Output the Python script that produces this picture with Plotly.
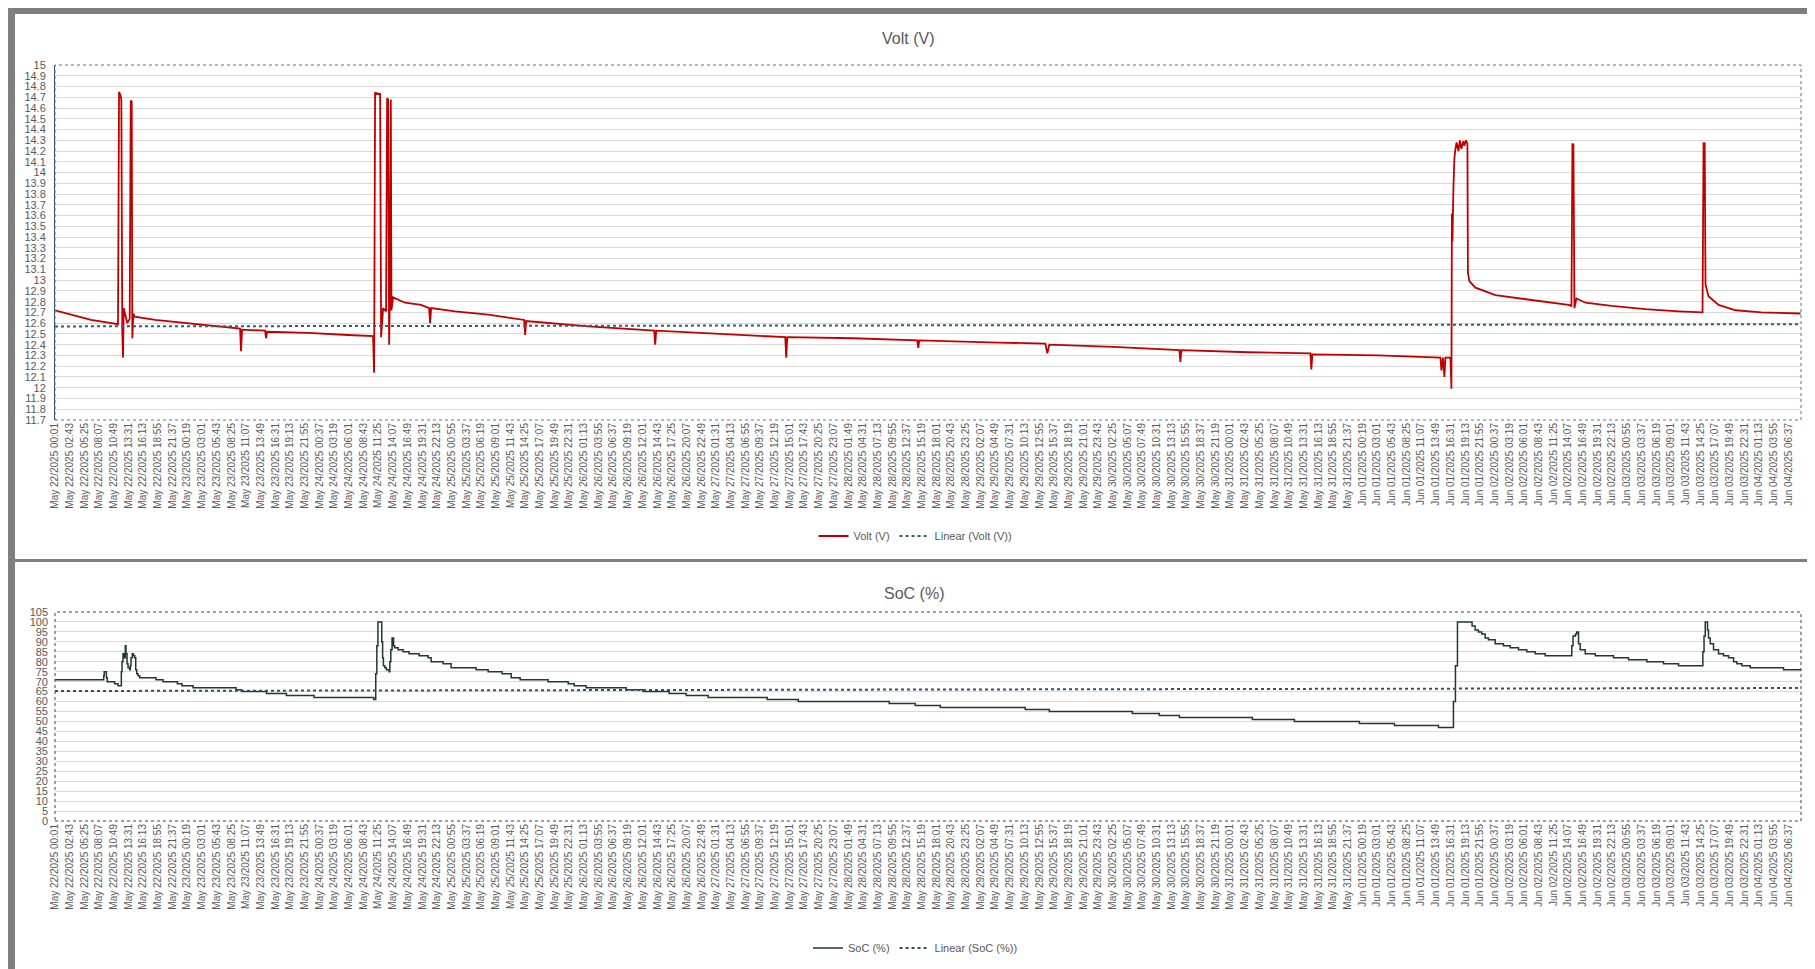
import numpy as np
import pandas as pd
import plotly.graph_objects as go

START = pd.Timestamp("2025-05-22 00:01")

# ---- Volt (V): hours since START, value ----
volt_hours = [0, 2.39, 6.62, 11.58, 11.77, 12.01, 12.19, 12.37, 12.50, 12.63, 12.92, 13.29, 13.73,
              13.92, 14.10, 14.21, 14.40, 14.65, 18.39, 24.45, 30.89, 34.01, 34.19, 34.38, 38.61,
              38.79, 38.98, 46.51, 53.87, 58.46, 58.65, 58.83, 59.75, 59.94, 60.30, 60.85, 61.04,
              61.22, 61.41, 61.54, 61.72, 61.83, 62.14, 64.35, 67.29, 68.76, 68.94, 69.13, 73.54,
              79.61, 86.23, 86.41, 86.60, 97.99, 110.13, 110.31, 110.50, 121.89, 134.21, 134.40,
              134.58, 146.71, 158.48, 158.66, 158.85, 173.37, 182.01, 182.38, 182.75, 194.51,
              206.65, 206.83, 207.01, 219.33, 230.73, 230.90, 231.10, 243.23, 254.63, 254.81,
              255.09, 255.36, 255.55, 256.47, 256.65, 256.74, 256.84, 257.02, 257.20, 257.39,
              257.60, 257.94, 258.20, 258.49, 258.80, 259.04, 259.30, 259.59, 259.68, 259.96,
              261.06, 264.74, 270.81, 278.16, 278.71, 278.89, 279.07, 279.17, 279.26, 279.63,
              281.29, 286.07, 292.32, 298.39, 302.80, 302.99, 303.10, 303.20, 303.35, 303.90,
              305.74, 308.87, 313.65, 320.82]
volt_values = [12.72, 12.69, 12.63, 12.59, 14.75, 14.72, 14.68, 12.51, 12.28, 12.74, 12.68, 12.60, 12.64,
               14.67, 14.66, 12.46, 12.69, 12.66, 12.63, 12.60, 12.57, 12.55, 12.34, 12.54, 12.53,
               12.46, 12.52, 12.51, 12.49, 12.48, 12.14, 14.74, 14.73, 12.47, 12.74, 12.71, 14.69,
               14.68, 12.40, 12.83, 14.68, 12.72, 12.84, 12.79, 12.77, 12.74, 12.60, 12.74, 12.71,
               12.68, 12.63, 12.49, 12.62, 12.57, 12.53, 12.40, 12.53, 12.50, 12.47, 12.28,
               12.47, 12.46, 12.44, 12.37, 12.44, 12.42, 12.41, 12.32, 12.40, 12.38,
               12.35, 12.24, 12.35, 12.33, 12.32, 12.17, 12.31, 12.30, 12.28, 12.16,
               12.28, 12.10, 12.28, 12.28, 11.99, 13.62, 13.36, 13.86, 14.14, 14.22,
               14.28, 14.20, 14.30, 14.22, 14.29, 14.25, 14.30, 14.27, 13.07, 12.99,
               12.93, 12.86, 12.82, 12.77, 12.76, 14.27, 14.26, 13.19, 12.74, 12.83,
               12.79, 12.76, 12.73, 12.71, 12.70, 14.28, 14.24, 14.28, 12.96, 12.85,
               12.77, 12.72, 12.70, 12.69]

# ---- SoC (%): hours since START, value (step changes) ----
soc_hours = [0, 8.95, 9.05, 9.45, 9.6, 10.97, 11.58, 12.19, 12.32, 12.50, 12.74, 12.92, 13.05, 13.24,
             13.42, 13.73, 13.84, 13.97, 14.21, 14.40, 14.65, 14.84, 15.02, 15.26, 15.57, 18.57,
             19.86, 22.49, 23.35, 25.37, 33.28, 34.26, 38.85, 42.53, 47.62, 58.59, 58.95, 59.15,
             59.35, 60.05, 60.21, 60.36, 60.62, 60.91, 61.41, 61.54, 61.72, 61.95, 62.23, 62.42,
             63.06, 63.98, 65.08, 66.92, 68.58, 69.13, 71.33, 72.80, 77.40, 79.61, 82.18, 83.84,
             85.49, 90.64, 94.32, 95.42, 97.62, 104.98, 108.10, 112.88, 116.01, 120.05, 130.90,
             136.60, 153.33, 158.11, 162.71, 178.33, 182.75, 198.01, 202.97, 206.65, 220.07,
             227.79, 239.74, 246.18, 254.27, 256.65, 257.02, 257.39, 257.76, 260.45, 261.01,
             261.62, 262.22, 262.85, 263.45, 264.69, 266.21, 267.45, 268.97, 270.50, 272.04,
             273.88, 278.77, 279.00, 279.45, 279.69, 280.01, 280.32, 281.24, 283.08, 286.44,
             289.20, 292.56, 295.63, 298.39, 302.86, 303.08, 303.30, 303.72, 303.90, 304.22,
             304.82, 305.74, 306.66, 307.58, 308.50, 309.11, 310.03, 311.57, 317.69, 321.0]
soc_values = [71, 73, 75, 72, 70, 69, 68, 75, 80, 84, 82, 88, 84, 79,
              77, 76, 78, 82, 84, 83, 82, 76, 74, 73, 72, 71,
              70, 69, 68, 67, 66, 65, 64, 63, 62, 61, 74, 88,
              100, 90, 82, 78, 77, 76, 75, 80, 86, 92, 88, 87,
              86, 85, 84, 83, 82, 80, 79, 77, 76, 75, 74, 72,
              71, 70, 69, 68, 67, 66, 65, 64, 63, 62, 61,
              60, 59, 58, 57, 56, 55, 54, 53, 52, 51,
              50, 49, 48, 47, 47, 60, 78, 100, 98, 96,
              95, 94, 92, 91, 89, 88, 87, 86, 85, 84,
              83, 88, 93, 94, 95, 89, 86, 84, 83, 82,
              81, 80, 79, 78, 85, 93, 100, 96, 92, 89,
              86, 84, 83, 82, 80, 79, 78, 77, 76, 76]

# ---- Linear trendlines (end points) ----
trend_hours = [0, 320.9]
volt_trend = [12.57, 12.59]
soc_trend = [65.3, 66.8]

# ---- Axis ticks ----
x_tick_step_min = 162
x_tick_count = 119
volt_tick_vals = [round(11.7 + 0.1 * i, 1) for i in range(34)]
soc_tick_vals = list(range(0, 106, 5))

def to_time(hours):
    return [START + pd.Timedelta(hours=h) for h in hours]

tick_times = [START + pd.Timedelta(minutes=x_tick_step_min * k) for k in range(x_tick_count)]
tick_text = [t.strftime("%b %d/%Y %H:%M") for t in tick_times]
x_range = [START, START + pd.Timedelta(hours=320.9)]

FONT = "Liberation Sans, Arial, sans-serif"
GRAY = "#595959"
W, H = 1815, 969

fig = go.Figure()
fig.add_trace(go.Scatter(x=to_time(volt_hours), y=volt_values, mode="lines", name="Volt (V)",
                         line=dict(color="#c00000", width=1.8), xaxis="x", yaxis="y", legend="legend"))
fig.add_trace(go.Scatter(x=to_time(trend_hours), y=volt_trend, mode="lines", name="Linear (Volt (V))",
                         line=dict(color="#2f5f73", width=2, dash="dot"), xaxis="x", yaxis="y", legend="legend"))
fig.add_trace(go.Scatter(x=to_time(soc_hours), y=soc_values, mode="lines", name="SoC (%)",
                         line=dict(color="#1e3a2c", width=1.5, shape="hv"), xaxis="x2", yaxis="y2", legend="legend2"))
fig.add_trace(go.Scatter(x=to_time(trend_hours), y=soc_trend, mode="lines", name="Linear (SoC (%))",
                         line=dict(color="#2f4f73", width=2, dash="dot"), xaxis="x2", yaxis="y2", legend="legend2"))

xdom = [47 / W, 1793 / W]
common_x = dict(type="date", range=x_range, tickmode="array", tickvals=tick_times, ticktext=tick_text,
                tickangle=-90, tickfont=dict(family=FONT, size=10, color=GRAY), showgrid=False,
                zeroline=False, showline=False, ticks="", automargin=False, domain=xdom)
fig.update_layout(
    width=W, height=H,
    margin=dict(l=0, r=0, t=0, b=0),
    paper_bgcolor="#7f7f7f",
    plot_bgcolor="rgba(0,0,0,0)",
    font=dict(family=FONT, color=GRAY, size=11),
    xaxis=dict(anchor="y", **common_x),
    xaxis2=dict(anchor="y2", **common_x),
    yaxis=dict(domain=[1 - 412 / H, 1 - 57 / H], range=[11.7, 15], tickmode="array",
               tickvals=volt_tick_vals, ticktext=[f"{v:g}" for v in volt_tick_vals],
               gridcolor="#d9d9d9", gridwidth=1, zeroline=False, showline=True,
               linecolor="#24505f", linewidth=1, ticks="", ticklabelstandoff=6,
               tickfont=dict(family=FONT, size=11, color=GRAY), automargin=False),
    yaxis2=dict(domain=[1 - 813 / H, 1 - 604 / H], range=[0, 105], tickmode="array",
                tickvals=soc_tick_vals, ticktext=[str(v) for v in soc_tick_vals],
                gridcolor="#d9d9d9", gridwidth=1, zeroline=False, showline=False, ticks="",
                ticklabelstandoff=6, tickfont=dict(family=FONT, size=11, color=GRAY), automargin=False),
    legend=dict(orientation="h", x=0.5, xanchor="center", y=1 - 528 / H, yanchor="middle",
                font=dict(family=FONT, size=11, color=GRAY), bgcolor="rgba(0,0,0,0)"),
    legend2=dict(orientation="h", x=0.5, xanchor="center", y=1 - 940 / H, yanchor="middle",
                 font=dict(family=FONT, size=11, color=GRAY), bgcolor="rgba(0,0,0,0)"),
    annotations=[
        dict(text="Volt (V)", x=900 / W, y=1 - 30 / H, xref="paper", yref="paper", showarrow=False,
             xanchor="center", yanchor="middle", font=dict(family=FONT, size=16, color=GRAY)),
        dict(text="SoC (%)", x=906 / W, y=1 - 585 / H, xref="paper", yref="paper", showarrow=False,
             xanchor="center", yanchor="middle", font=dict(family=FONT, size=16, color=GRAY)),
    ],
    shapes=[
        dict(type="rect", xref="paper", yref="paper", x0=7 / W, x1=1808 / W, y0=1 - 551 / H, y1=1 - 6 / H,
             fillcolor="white", line=dict(width=0), layer="below"),
        dict(type="rect", xref="paper", yref="paper", x0=7 / W, x1=1808 / W, y0=1 - 965 / H, y1=1 - 554 / H,
             fillcolor="white", line=dict(width=0), layer="below"),
        dict(type="rect", xref="x domain", yref="y domain", x0=0, x1=1, y0=0, y1=1,
             line=dict(color="#4f7a8a", width=1, dash="dot"), layer="above"),
        dict(type="rect", xref="x2 domain", yref="y2 domain", x0=0, x1=1, y0=0, y1=1,
             line=dict(color="#404040", width=1, dash="dot"), layer="above"),
    ],
    showlegend=True,
)

fig.write_html("out.html")
